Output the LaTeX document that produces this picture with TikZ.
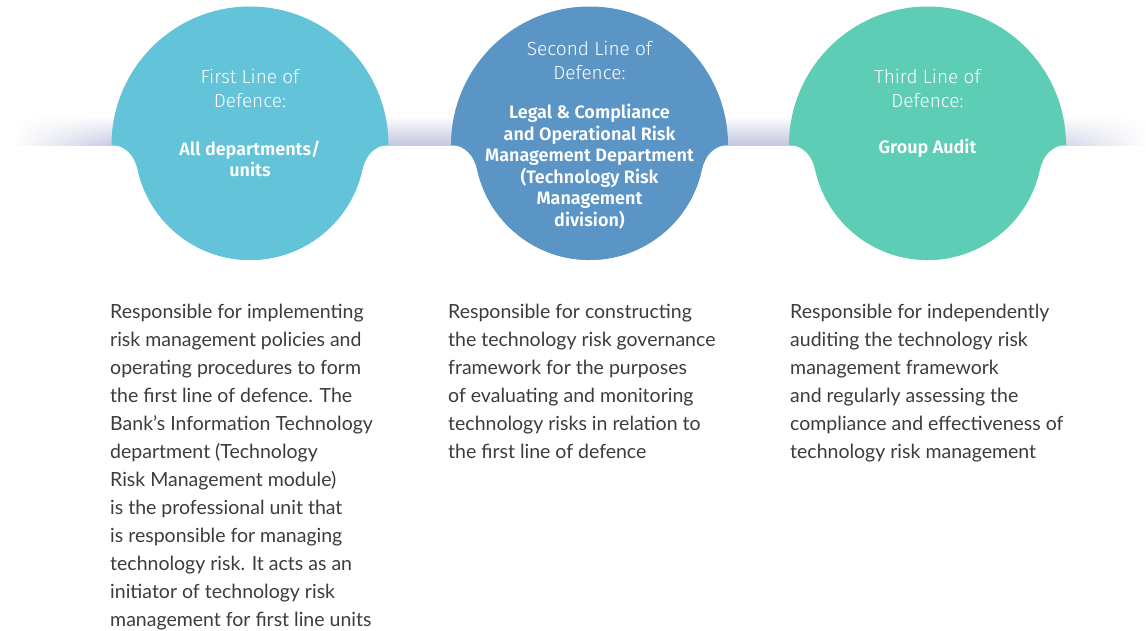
\documentclass[tikz,border=0pt]{standalone}
\usepackage{fontspec}
\usetikzlibrary{fadings}

% Body copy: humanist sans
\newfontfamily\bodyfont{Lato}
% Circle captions: thin and heavy cuts of a DIN-like sans
\IfFontExistsTF{Fira Sans Light}
  {\newfontfamily\captionfont{Fira Sans Light}}
  {\newfontfamily\captionfont{Fira Sans}}
\IfFontExistsTF{Fira Sans SemiBold}
  {\newfontfamily\unitfont{Fira Sans SemiBold}}
  {\newfontfamily\unitfont{Fira Sans Bold}}

\definecolor{lineA}{HTML}{62C3D9}
\definecolor{lineAdark}{HTML}{3E9CC0}
\definecolor{lineB}{HTML}{5B95C5}
\definecolor{lineBdark}{HTML}{3C6AA8}
\definecolor{lineC}{HTML}{5ECDB5}
\definecolor{lineCdark}{HTML}{3FA39D}
\definecolor{bandlav}{HTML}{C2C6E0}
\definecolor{copygray}{HTML}{3C3C3C}

\pgfdeclareradialshading{rimA}{\pgfpoint{0bp}{0bp}}{color(0bp)=(lineA); color(36bp)=(lineA); color(50bp)=(lineAdark)}
\pgfdeclareradialshading{rimB}{\pgfpoint{0bp}{0bp}}{color(0bp)=(lineB); color(32bp)=(lineB); color(50bp)=(lineBdark)}
\pgfdeclareradialshading{rimC}{\pgfpoint{0bp}{0bp}}{color(0bp)=(lineC); color(36bp)=(lineC); color(50bp)=(lineCdark)}

% Outline of one lobe centred at x = #1: a large upper half circle that
% narrows through two fillets into a smaller lower half circle.
\newcommand\lobe[1]{(#1-138.5,145) arc[start angle=180,end angle=360,radius=138.5]
  .. controls (#1+124,145) and (#1+115,157.2) .. (#1+112.5,168.9)
  arc[start angle=12,end angle=168,radius=115]
  .. controls (#1-115,157.2) and (#1-124,145) .. (#1-138.5,145) -- cycle}

% Filled and shaded lobe: #1 centre x, #2 base colour, #3 rim shading
\newcommand\drawlobe[3]{%
  \fill[#2] \lobe{#1};
  \begin{scope}
    \clip (#1-140,145) rectangle (#1+140,265);
    \clip \lobe{#1};
    \shade[shading=#3] (#1,145) circle[radius=117];
  \end{scope}}

\tikzset{
  caption/.style={text=white, align=center, inner sep=0pt,
    font=\captionfont\fontsize{19}{24}\selectfont},
  unit/.style={text=white, align=center, inner sep=0pt,
    font=\unitfont\fontsize{18}{21.5}\selectfont},
  copy/.style={text=copygray, align=left, inner sep=0pt, anchor=north west,
    font=\bodyfont\fontsize{19.5}{28}\selectfont},
}

\begin{document}
\begin{tikzpicture}[x=1pt,y=-1pt]
\useasboundingbox (0,0) rectangle (1146,630);

% horizontal band behind the lobes
\shade[top color=white, bottom color=bandlav] (15,116) rectangle (1146,145.5);
\fill[white, path fading=east] (14,110) rectangle (120,146);
\fill[white, path fading=west] (1030,110) rectangle (1147,146);

\drawlobe{250}{lineA}{rimA}
\drawlobe{589.5}{lineB}{rimB}
\drawlobe{927.5}{lineC}{rimC}

\node[caption] (cap1) at (250,88) {First Line of\\Defence:};
\node[unit] (unit1) at (250,159) {All departments/\\units};

\node[caption] (cap2) at (589.5,60) {Second Line of\\Defence:};
\node[unit] (unit2) at (589.5,166.5) {Legal \& Compliance\\and Operational Risk\\Management Department\\(Technology Risk\\Management\\division)};

\node[caption] (cap3) at (927.5,88) {Third Line of\\Defence:};
\node[unit] (unit3) at (927.5,148) {Group Audit};

\node[copy] (copy1) at (110,303.5) {Responsible for implementing\\risk management policies and\\operating procedures to form\\the first line of defence. The\\Bank’s Information Technology\\department (Technology\\Risk Management module)\\is the professional unit that\\is responsible for managing\\technology risk. It acts as an\\initiator of technology risk\\management for first line units};

\node[copy] (copy2) at (448,303.5) {Responsible for constructing\\the technology risk governance\\framework for the purposes\\of evaluating and monitoring\\technology risks in relation to\\the first line of defence};

\node[copy] (copy3) at (790,303.5) {Responsible for independently\\auditing the technology risk\\management framework\\and regularly assessing the\\compliance and effectiveness of\\technology risk management};
\end{tikzpicture}
\end{document}
